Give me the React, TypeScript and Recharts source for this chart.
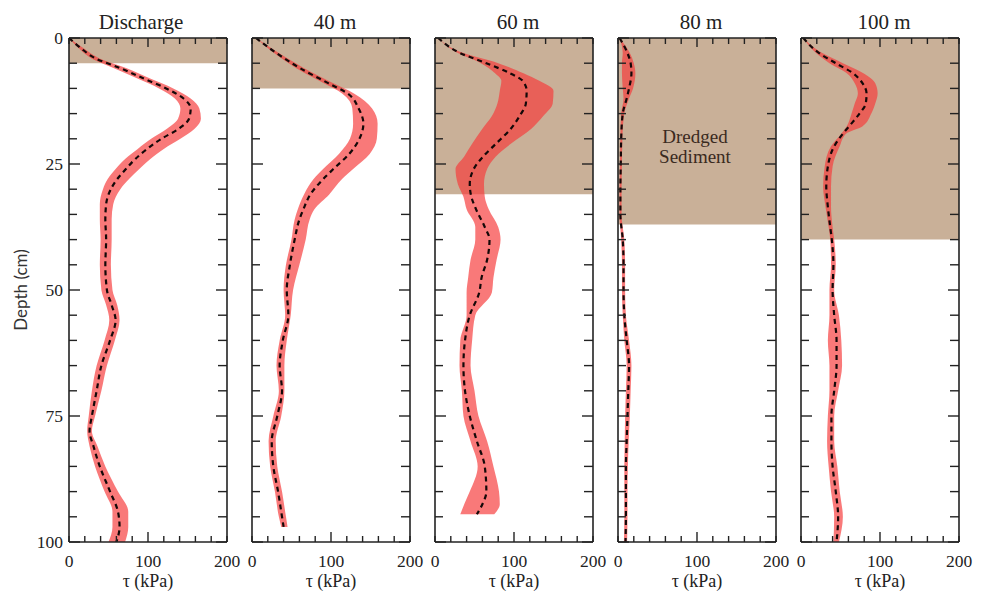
import { ComposedChart, Area, Line, XAxis, YAxis, ReferenceArea, Label } from 'recharts'

const SERIF = 'Liberation Serif'
const INK = '#222'
const SEDIMENT = '#c9b098'
const BAND = '#f63a3a'

const DEPTH_TICKS = [0, 5, 10, 15, 20, 25, 30, 35, 40, 45, 50, 55, 60, 65, 70, 75, 80, 85, 90, 95, 100]
const TAU_TICKS = [0, 20, 40, 60, 80, 100, 120, 140, 160, 180, 200]

const PANEL_TITLES = ['Discharge', '40 m', '60 m', '80 m', '100 m']
const TITLE_SHIFT = [-7, 4, 4, 4, 4]
// depth (cm) down to which each core is dredged sediment
const SEDIMENT_DEPTH = [5, 10, 31, 37, 40]

// Discharge
const dischargeDepth = [0, 2, 4, 6, 8, 10, 12, 14, 16, 18, 20, 22, 24, 26, 28, 30, 33, 36, 40, 45, 50, 53, 56, 60, 65, 70, 75, 78, 81, 85, 90, 94, 97, 100]
const dischargeMean = [0, 15, 33, 65, 94, 123, 145, 154, 152, 139, 117, 99, 84, 72, 61, 53, 47, 46, 47, 46, 48, 54, 59, 52, 41, 35, 29, 26, 31, 39, 52, 62, 64, 60]
const dischargeMin = [0, 12, 28, 57, 86, 114, 134, 141, 138, 124, 104, 87, 71, 59, 49, 43, 39, 39, 40, 39, 41, 47, 51, 45, 35, 29, 25, 23, 26, 33, 45, 55, 55, 50]
const dischargeMax = [0, 18, 38, 73, 102, 132, 154, 165, 167, 159, 141, 120, 103, 89, 76, 65, 56, 54, 54, 53, 55, 61, 64, 58, 48, 41, 33, 29, 36, 46, 62, 75, 75, 71]

// 40 m
const m40Depth = [0, 3, 6, 9, 11, 14, 17, 20, 23, 26, 28, 31, 34, 36, 40, 45, 50, 55, 60, 65, 70, 75, 80, 85, 90, 95, 97]
const m40Mean = [5, 31, 61, 97, 121, 135, 141, 136, 123, 103, 90, 74, 65, 60, 54, 48, 44, 46, 39, 35, 38, 32, 25, 27, 33, 38, 40]
const m40Min = [5, 28, 56, 91, 114, 127, 128, 124, 110, 90, 78, 66, 58, 54, 50, 43, 40, 42, 35, 31, 34, 27, 21, 23, 29, 34, 37]
const m40Max = [5, 34, 66, 103, 129, 152, 159, 158, 149, 128, 114, 98, 79, 73, 68, 60, 52, 49, 44, 41, 41, 37, 30, 32, 38, 43, 45]

// 60 m
const m60Depth = [0, 3, 5, 7, 8.5, 10.5, 13, 15.5, 18, 21, 23.5, 26, 29, 31.5, 34, 37.5, 40, 44, 47.5, 50.5, 55, 60, 65, 70, 75, 80, 85, 90, 92.5, 94.5]
const m60Mean = [4, 32, 65, 95, 111, 116, 115, 107, 96, 77, 61, 49, 44, 46, 52, 63, 69, 66, 59, 56, 44, 38, 36, 38, 44, 53, 63, 65, 60, 53]
const m60Min = [4, 29, 58, 76, 84, 82, 79, 72, 60, 47, 37, 26, 29, 36, 40, 51, 51, 45, 42, 40, 40, 32, 31, 34, 36, 45, 54, 44, 37, 32]
const m60Max = [4, 36, 80, 112, 132, 150, 149, 137, 122, 96, 77, 66, 62, 63, 68, 80, 83, 78, 74, 72, 51, 47, 45, 50, 55, 66, 74, 81, 82, 75]

// 80 m
const m80Depth = [0, 3, 5, 7, 10, 12, 15, 20, 25, 30, 35, 40, 45, 50, 55, 60, 65, 70, 75, 80, 85, 90, 95, 100]
const m80Mean = [2, 12, 16, 17, 14, 11, 6, 4, 3.5, 3, 3, 6, 7, 7, 8, 11, 14, 13, 12, 11, 10, 10, 10, 9.5]
const m80Min = [2, 6, 5, 5, 6, 7, 4, 3, 2.5, 2, 2, 4, 5, 5, 6, 8, 11, 10, 9, 8.5, 8, 8, 8, 7.5]
const m80Max = [2, 15, 20, 22, 19, 14, 8, 5.5, 5, 4.5, 4.5, 8, 9, 9, 10, 14, 17, 16, 15, 13.5, 12.5, 12, 12, 11.5]

// 100 m
const m100Depth = [0, 3, 5, 7, 9, 11, 13, 15, 17.5, 19, 21.5, 25.5, 29.5, 33.5, 37.5, 40, 45, 50, 55, 60, 65, 70, 75, 80, 85, 90, 95, 100]
const m100Mean = [3, 23, 44, 66, 78, 83, 82, 74, 61, 53, 42, 34, 32, 34, 37, 39, 41, 40, 42, 45, 45, 42, 38.5, 38.5, 40, 44, 47, 45]
const m100Min = [3, 19, 36, 58, 68, 72, 68, 64, 58, 51, 38, 30, 28, 31, 35, 37, 38, 36, 36, 34, 36, 36, 34, 33, 35, 38, 42, 41]
const m100Max = [3, 27, 53, 79, 94, 97, 94, 89, 78, 57, 49, 40, 38, 38, 40, 42, 44, 42, 48, 51, 52, 47, 42, 42, 46, 49, 53, 48]

const rows = (depth: number[], mean: number[], lo: number[], hi: number[]) =>
  depth.map((d, i) => ({ depth: d, mean: mean[i], range: [lo[i], hi[i]] }))

const PANEL_DATA = [
  rows(dischargeDepth, dischargeMean, dischargeMin, dischargeMax),
  rows(m40Depth, m40Mean, m40Min, m40Max),
  rows(m60Depth, m60Mean, m60Min, m60Max),
  rows(m80Depth, m80Mean, m80Min, m80Max),
  rows(m100Depth, m100Mean, m100Min, m100Max),
]

const PANEL_LEFT = 69
const PANEL_STEP = 183
const PANEL_W = 158
const PLOT_TOP = 38
const PLOT_BOTTOM = 542
const H = 591
const PAD = 45
// axes need a non-zero size to be drawn; margins below are reduced by this
const AX = 1

// inward-pointing tick marks, labels drawn outside the frame
const bottomTick = (p: any) => {
  const v = p.payload.value
  return (
    <g>
      <line x1={p.x} x2={p.x} y1={p.y} y2={p.y - (v === 100 ? 10 : 6)} stroke={INK} strokeWidth={1.4} />
      {v % 100 === 0 && (
        <text x={p.x} y={p.y + 25} textAnchor="middle" fontFamily={SERIF} fontSize={17.5} fill={INK}>{v}</text>
      )}
    </g>
  )
}

const topTick = (p: any) => {
  const v = p.payload.value
  return <line x1={p.x} x2={p.x} y1={p.y} y2={p.y + (v === 100 ? 9 : 6)} stroke={INK} strokeWidth={1.4} />
}

const leftTick = (labelled: boolean) => (p: any) => {
  const v = p.payload.value
  const major = v % 25 === 0
  return (
    <g>
      <line x1={p.x} x2={p.x + (major ? 11 : 8)} y1={p.y} y2={p.y} stroke={INK} strokeWidth={1.4} />
      {labelled && major && (
        <text x={p.x - 6} y={p.y} dy="0.34em" textAnchor="end" fontFamily={SERIF} fontSize={17.5} fill={INK}>{v}</text>
      )}
    </g>
  )
}

const rightTick = (p: any) => {
  const v = p.payload.value
  return <line x1={p.x} x2={p.x - (v % 25 === 0 ? 11 : 9)} y1={p.y} y2={p.y} stroke={INK} strokeWidth={1.4} />
}

const frame = { stroke: INK, strokeWidth: 1.6 }

function Panel({ index }: { index: number }) {
  const left = PANEL_LEFT + index * PANEL_STEP
  return (
    <div style={{ position: 'absolute', left: left - PAD, top: 0 }}>
      <ComposedChart
        width={PANEL_W + 2 * PAD}
        height={H}
        data={PANEL_DATA[index]}
        layout="vertical"
        margin={{ top: PLOT_TOP - AX, bottom: H - PLOT_BOTTOM - AX, left: PAD - AX, right: PAD - AX }}
      >
        <XAxis xAxisId="b" orientation="bottom" type="number" domain={[0, 200]} allowDataOverflow
          ticks={TAU_TICKS} interval={0} height={AX} tickSize={0} tickMargin={0} tickLine={false}
          axisLine={frame} tick={bottomTick}>
          <Label value="τ (kPa)" position="bottom" offset={31} fontSize={18} fontFamily={SERIF} fill={INK} />
        </XAxis>
        <XAxis xAxisId="t" orientation="top" type="number" domain={[0, 200]} allowDataOverflow
          ticks={TAU_TICKS} interval={0} height={AX} tickSize={0} tickMargin={0} tickLine={false}
          axisLine={frame} tick={topTick} />
        <YAxis yAxisId="l" orientation="left" type="number" dataKey="depth" domain={[0, 100]} allowDataOverflow
          ticks={DEPTH_TICKS} interval={0} width={AX} tickSize={0} tickMargin={0} tickLine={false}
          axisLine={frame} tick={leftTick(index === 0)} />
        <YAxis yAxisId="r" orientation="right" type="number" dataKey="depth" domain={[0, 100]} allowDataOverflow
          ticks={DEPTH_TICKS} interval={0} width={AX} tickSize={0} tickMargin={0} tickLine={false}
          axisLine={frame} tick={rightTick} />
        <ReferenceArea xAxisId="b" yAxisId="l" x1={0} x2={200} y1={0} y2={SEDIMENT_DEPTH[index]}
          fill={SEDIMENT} fillOpacity={1} stroke="none" ifOverflow="visible" />
        <Area xAxisId="b" yAxisId="l" dataKey="range" type="monotone" fill={BAND} fillOpacity={0.68}
          stroke="none" dot={false} activeDot={false} isAnimationActive={false} />
        <Line xAxisId="b" yAxisId="l" dataKey="mean" type="monotone" stroke="#140808" strokeWidth={2.2}
          strokeDasharray="5 4" dot={false} activeDot={false} isAnimationActive={false} />
      </ComposedChart>
    </div>
  )
}

export default function App() {
  const centers = PANEL_TITLES.map((_, i) => PANEL_LEFT + i * PANEL_STEP + PANEL_W / 2)
  return (
    <div style={{ position: 'absolute', left: 0, top: 0, width: 984, height: H, background: '#fff' }}>
      {PANEL_TITLES.map((_, i) => <Panel key={i} index={i} />)}
      <svg width={984} height={H} style={{ position: 'absolute', left: 0, top: 0, pointerEvents: 'none' }}>
        {PANEL_TITLES.map((t, i) => (
          <text key={t} x={centers[i] + TITLE_SHIFT[i]} y={29} textAnchor="middle" fontSize={21} fontFamily={SERIF} fill={INK}>{t}</text>
        ))}
        <text transform={`translate(21, ${(PLOT_TOP + PLOT_BOTTOM) / 2}) rotate(-90)`} textAnchor="middle" dy="0.35em"
          fontSize={17} fontFamily="Lato" fill="#333">Depth (cm)</text>
        <text x={centers[3] - 2} y={143} textAnchor="middle" fontSize={19} fontFamily={SERIF} fill="#3a2a1e">Dredged</text>
        <text x={centers[3] - 2} y={163} textAnchor="middle" fontSize={19} fontFamily={SERIF} fill="#3a2a1e">Sediment</text>
      </svg>
    </div>
  )
}
